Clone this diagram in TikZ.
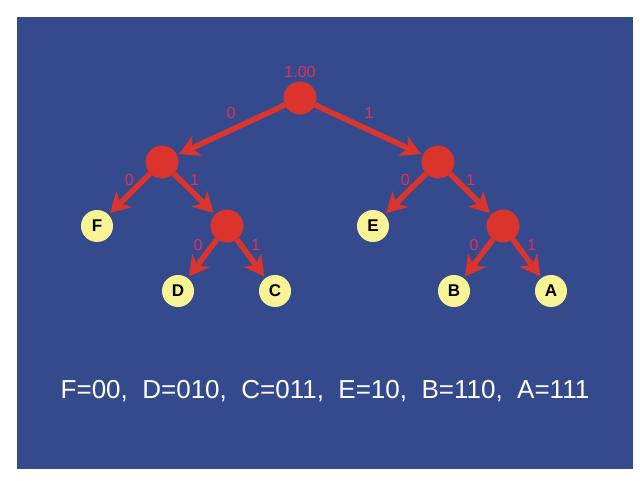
\documentclass[tikz,border=0pt]{standalone}
\usepackage{fontspec}
\setmainfont{Liberation Sans}
\usetikzlibrary{positioning,arrows.meta}
\definecolor{slideblue}{RGB}{53,74,140}
\definecolor{nodered}{RGB}{218,52,44}
\definecolor{leafyellow}{RGB}{248,244,150}
\definecolor{labelred}{RGB}{222,48,90}
\begin{document}
\begin{tikzpicture}[x=1pt, y=1pt, node distance=64pt and 65pt,
    every edge/.style={draw=nodered, line width=5.5pt, -{Stealth[length=20pt, width=22pt, inset=6pt]}, shorten >=2pt},
    inner node/.style={circle, fill=nodered, minimum size=33pt, inner sep=0pt, on grid},
    leaf node/.style={circle, fill=leafyellow, minimum size=32pt, inner sep=0pt, on grid, text=black, font=\fontsize{17}{17}\selectfont\bfseries}]
  \tikzstyle{every node}=[font=\fontsize{16}{16}\selectfont, text=labelred]

  \fill[white] (0,0) rectangle (640,480);
  \fill[slideblue] (17,11) rectangle (633,463);

  \node[inner node] (1) at (300,382) {};
  \node[on grid] (0) [above=26pt of 1] {1.00};
  \node[inner node] (2) [below left=64pt and 138pt of 1] {};
  \node[inner node] (3) [below right=64pt and 138pt of 1] {};
  \node[leaf node] (4) [below left=of 2] {F};
  \node[inner node] (5) [below right=of 2] {};
  \node[leaf node] (6) [below left=of 3] {E};
  \node[inner node] (7) [below right=of 3] {};
  \node[leaf node] (8) [below left=65pt and 49pt of 5] {D};
  \node[leaf node] (9) [below right=65pt and 48pt of 5] {C};
  \node[leaf node] (10) [below left=65pt and 49pt of 7] {B};
  \node[leaf node] (11) [below right=65pt and 48pt of 7] {A};

  \path
    (1) edge node [above=5pt] {0} (2)
        edge node [above=5pt] {1} (3)
    (2) edge node [pos=.15, left=4pt] {0} (4)
        edge node [pos=.15, right=4pt] {1} (5)
    (3) edge node [pos=.15, left=4pt] {0} (6)
        edge node [pos=.15, right=4pt] {1} (7)
    (5) edge node [pos=.15, left=4pt] {0} (8)
        edge node [pos=.15, right=4pt] {1} (9)
    (7) edge node [pos=.15, left=4pt] {0} (10)
        edge node [pos=.15, right=4pt] {1} (11);

  \node[anchor=base, text=white, font=\fontsize{26}{26}\selectfont] (12) at (325,82)
    {F=00,\ \ D=010,\ \ C=011,\ \ E=10,\ \ B=110,\ \ A=111};
\end{tikzpicture}
\end{document}
